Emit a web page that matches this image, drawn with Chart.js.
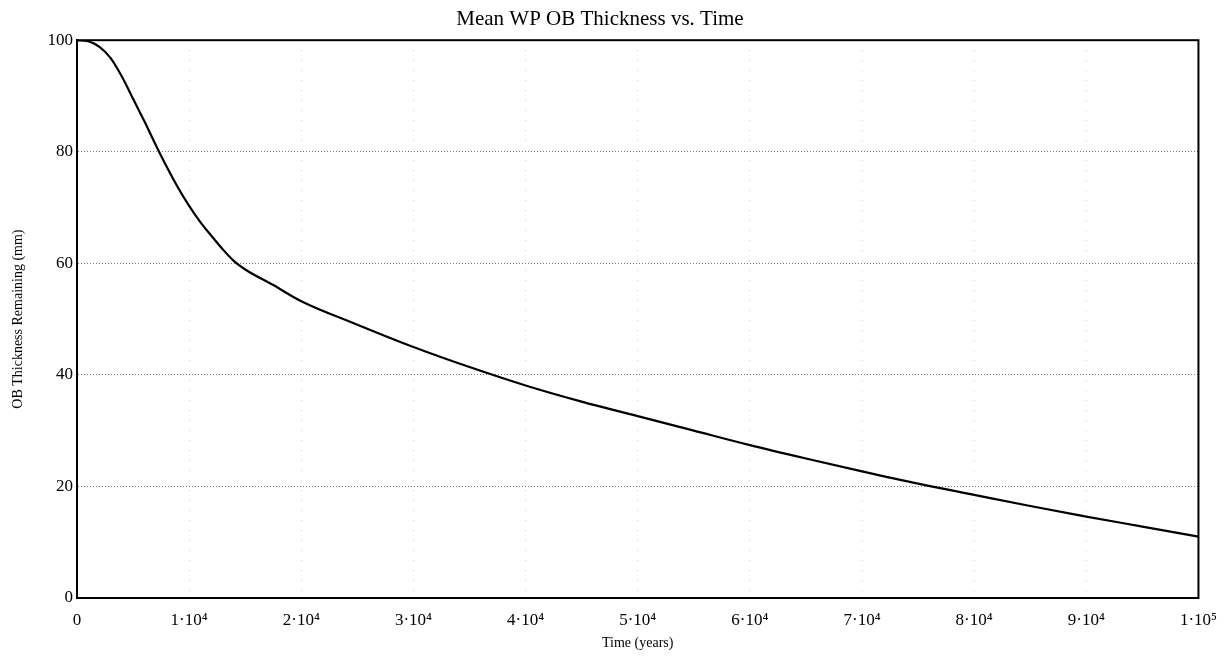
<!DOCTYPE html>
<html>
<head>
<meta charset="utf-8">
<script src="https://cdn.jsdelivr.net/npm/chart.js@4/dist/chart.umd.min.js"></script>
<style>
  body { margin: 0; background: #fff; }
  #wrap { width: 1229px; height: 660px; }
</style>
</head>
<body>
<div id="wrap"><canvas id="chart"></canvas></div>
<script>
// time in units of 10^4 years, thickness in mm
const timeYears = [0, 0.1, 0.2, 0.3, 0.4, 0.5, 0.6, 0.7, 0.8, 0.9, 1.0, 1.1, 1.2, 1.3, 1.4, 1.5, 1.75,
  2.0, 2.5, 3.0, 3.5, 4.0, 4.5, 5.0, 5.5, 6.0, 6.5, 7.0, 7.5, 8.0, 8.5, 9.0, 9.5, 10.0];
const thickness = [100, 99.8, 98.8, 96.8, 93.5, 89.5, 85.5, 81.3, 77.3, 73.6, 70.3, 67.4, 64.9, 62.5, 60.4, 58.9, 56.1,
  53.2, 49.0, 45.0, 41.4, 38.1, 35.2, 32.6, 30.0, 27.4, 25.0, 22.7, 20.5, 18.5, 16.5, 14.6, 12.8, 11.0];
const xTickLabels = ["0", "1·10⁴", "2·10⁴", "3·10⁴", "4·10⁴", "5·10⁴", "6·10⁴", "7·10⁴", "8·10⁴", "9·10⁴", "1·10⁵"];
const yTicks = [0, 20, 40, 60, 80, 100];

const serif = "'Liberation Serif', 'DejaVu Serif', serif";

// solid box round the plot area
const frame = {
  id: "frame",
  afterDraw(chart) {
    const a = chart.chartArea;
    const c = chart.ctx;
    c.save();
    c.strokeStyle = "#000";
    c.lineWidth = 2;
    c.strokeRect(a.left, a.top, a.right - a.left, a.bottom - a.top);
    c.restore();
  },
};

const points = timeYears.map((t, i) => ({ x: t * 10000, y: thickness[i] }));

const myChart = new Chart(document.getElementById("chart"), {
  type: "scatter",
  data: {
    datasets: [
      {
        data: points,
        showLine: true,
        borderColor: "#000",
        borderWidth: 2.2,
        pointRadius: 0,
        cubicInterpolationMode: "monotone",
      },
    ],
  },
  options: {
    responsive: true,
    maintainAspectRatio: false,
    animation: false,
    layout: { padding: { left: 0, right: 29, top: 0, bottom: 0 } },
    scales: {
      x: {
        type: "linear",
        min: 0,
        max: 100000,
        afterFit: (s) => { s.height = 62; },
        afterBuildTicks: (s) => {
          s.ticks = xTickLabels.map((_, i) => ({ value: i * 10000 }));
        },
        ticks: {
          color: "#000",
          padding: 12,
          maxRotation: 0,
          autoSkip: false,
          font: { family: serif, size: 17 },
          callback: (v, i) => xTickLabels[i],
        },
        grid: {
          drawTicks: false,
          color: "#c8c8c8",
          lineWidth: 1,
        },
        border: { color: "#000", width: 2, dash: [1, 9] },
        title: {
          display: true,
          text: "Time (years)",
          color: "#000",
          font: { family: serif, size: 14 },
          padding: { top: 0, bottom: 8 },
        },
      },
      y: {
        min: 0,
        max: 100,
        afterFit: (s) => { s.width = 77; },
        afterBuildTicks: (s) => {
          s.ticks = yTicks.map((v) => ({ value: v }));
        },
        ticks: {
          color: "#000",
          padding: 4,
          font: { family: serif, size: 17 },
        },
        grid: {
          drawTicks: false,
          color: "#777",
          lineWidth: 1,
        },
        border: { color: "#000", width: 2, dash: [1, 2] },
        title: {
          display: true,
          text: "OB Thickness Remaining (mm)",
          color: "#000",
          font: { family: serif, size: 14 },
          padding: { top: 10, bottom: 6 },
        },
      },
    },
    plugins: {
      legend: { display: false },
      tooltip: { enabled: false },
      title: {
        display: true,
        text: "Mean WP OB Thickness vs. Time",
        color: "#000",
        font: { family: serif, size: 21, weight: "normal" },
        padding: { top: 7, bottom: 8 },
      },
    },
  },
  plugins: [frame],
});
</script>
</body>
</html>
